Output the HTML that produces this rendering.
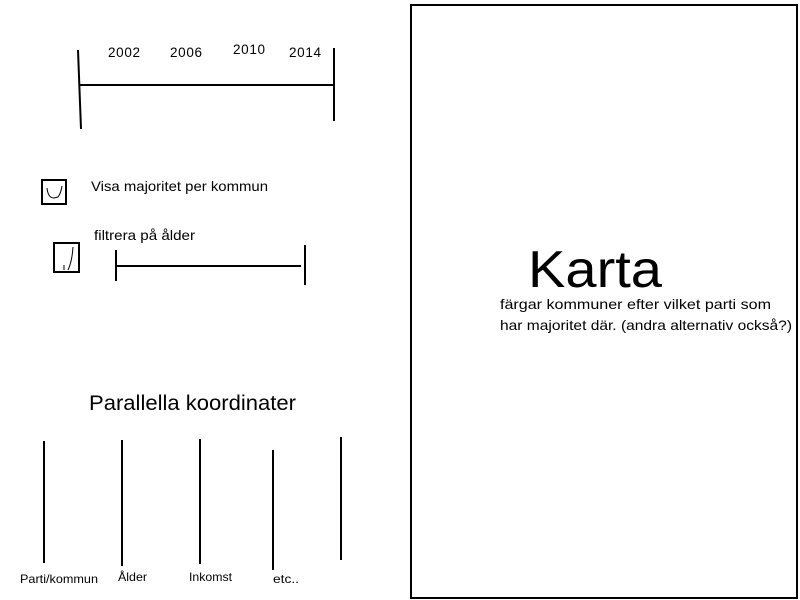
<!DOCTYPE html>
<html><head><meta charset="utf-8"><style>html,body{margin:0;padding:0;background:#fff}svg{display:block}</style></head>
<body>
<svg width="800" height="600" viewBox="0 0 800 600" xmlns="http://www.w3.org/2000/svg" font-family="'Liberation Sans', sans-serif" fill="#000">
<g stroke="#000" stroke-width="2" fill="none">
<line x1="78" y1="50" x2="81" y2="129"/>
<line x1="80" y1="85" x2="333" y2="85"/>
<line x1="334" y1="48" x2="334" y2="121"/>
<rect x="42" y="180" width="24" height="24"/>
<rect x="54" y="243" width="25" height="29"/>
<line x1="116" y1="250" x2="116" y2="281"/>
<line x1="116" y1="266" x2="301" y2="266"/>
<line x1="305" y1="245" x2="305" y2="285"/>
<line x1="44" y1="441" x2="44" y2="563"/>
<line x1="122" y1="440" x2="122" y2="566"/>
<line x1="200" y1="439" x2="200" y2="564"/>
<line x1="273" y1="450" x2="273" y2="570"/>
<line x1="341" y1="437" x2="341" y2="560"/>
<rect x="411" y="5" width="386" height="593"/>
</g>
<g stroke="#000" stroke-width="1" fill="none">
<path d="M47 188 Q48 198 54 198 L58 197 Q61 193 62 186"/>
<path d="M73 247 Q72 262 68 270 M64 270 L64 265"/>
</g>
<g font-size="13.5">
<text x="108" y="57" textLength="32">2002</text>
<text x="170" y="57" textLength="32">2006</text>
<text x="233" y="54" textLength="32">2010</text>
<text x="289" y="57" textLength="32">2014</text>
</g>
<g font-size="14">
<text x="91" y="191" textLength="177" lengthAdjust="spacingAndGlyphs">Visa majoritet per kommun</text>
<text x="94" y="240" textLength="101" lengthAdjust="spacingAndGlyphs">filtrera på ålder</text>
<text x="500" y="309" textLength="271" lengthAdjust="spacingAndGlyphs">färgar kommuner efter vilket parti som</text>
<text x="500" y="330" textLength="292" lengthAdjust="spacingAndGlyphs">har majoritet där. (andra alternativ också?)</text>
</g>
<text x="89" y="410" font-size="21" textLength="207" lengthAdjust="spacingAndGlyphs">Parallella koordinater</text>
<g font-size="12">
<text x="20" y="583" textLength="78" lengthAdjust="spacingAndGlyphs">Parti/kommun</text>
<text x="118" y="581" textLength="29" lengthAdjust="spacingAndGlyphs">Ålder</text>
<text x="189" y="581" textLength="43" lengthAdjust="spacingAndGlyphs">Inkomst</text>
<text x="273" y="583" textLength="26" lengthAdjust="spacingAndGlyphs">etc..</text>
</g>
<text x="528" y="287" font-size="52" textLength="134" lengthAdjust="spacingAndGlyphs">Karta</text>
</svg>
</body></html>
